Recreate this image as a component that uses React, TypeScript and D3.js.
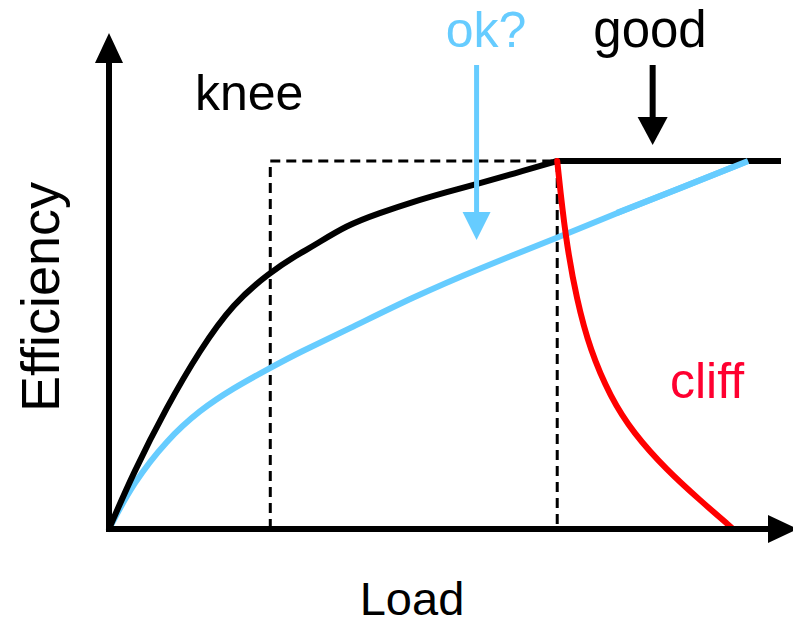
import React from "react";
import * as d3 from "d3";

// Data in abstract units: load 0..100, efficiency 0..100
const kneeLoad = [0, 3.6, 8.6, 13.5, 18.5, 24.0, 28.0, 30.4, 35.4, 40.3, 45.2, 50.3, 55.2, 60.1, 66.7];
const kneeEff = [0, 15.2, 33.2, 48.6, 61.4, 69.8, 74.5, 76.9, 82.6, 85.9, 88.9, 91.6, 94.0, 96.5, 100];

const goodLoad = [66.7, 100];
const goodEff = [100, 100];

const okLoad = [0, 3.6, 8.6, 13.5, 18.5, 24.0, 28.4, 35.4, 45.2, 55.2, 66.7, 75.6, 85.4, 95.1];
const okEff = [0, 12.5, 24.2, 32.3, 38.3, 43.8, 48.1, 54.1, 63.0, 70.9, 79.1, 85.9, 92.9, 100];

const cliffLoad = [66.7, 67.9, 69.6, 71.6, 74.6, 78.0, 83.0, 87.9, 92.7];
const cliffEff = [100, 79.3, 62.2, 48.6, 35.9, 26.1, 16.0, 7.9, 0.3];

const boxLoad = [24.0, 66.7];
const boxEff = 100;

const W = 793;
const H = 625;
const FONT = "'Liberation Sans', Arial, Helvetica, sans-serif";
const BLUE = "#66CCFF";
const RED = "#FF0000";

export default function App() {
  const x = d3.scaleLinear().domain([0, 100]).range([109, 781]);
  const y = d3.scaleLinear().domain([0, 100]).range([529, 161]);

  const mk = (xs: number[], ys: number[], curve: d3.CurveFactory = d3.curveBasis) =>
    d3
      .line<number>()
      .x((_, i) => x(xs[i]))
      .y((_, i) => y(ys[i]))
      .curve(curve)(xs.map((_, i) => i)) || "";

  const x0 = x(0);
  const y0 = y(0);
  const bx1 = x(boxLoad[0]);
  const bx2 = x(boxLoad[1]);
  const by = y(boxEff);

  const okX = x(54.7);
  const goodX = x(80.9);

  return (
    <svg
      width={W}
      height={H}
      style={{ position: "absolute", left: 0, top: 0, display: "block", background: "#fff" }}
    >
      {/* dashed box */}
      <path
        d={`M${bx1},${y0} L${bx1},${by} L${bx2},${by} L${bx2},${y0}`}
        fill="none"
        stroke="#000"
        strokeWidth={3}
        strokeDasharray="10,6"
      />
      {/* curves */}
      <path d={mk(okLoad, okEff)} fill="none" stroke={BLUE} strokeWidth={6} strokeLinecap="round" />
      <path d={mk(kneeLoad, kneeEff)} fill="none" stroke="#000" strokeWidth={6} strokeLinecap="round" />
      <path d={mk(goodLoad, goodEff, d3.curveLinear)} fill="none" stroke="#000" strokeWidth={6} />
      <path d={mk(cliffLoad, cliffEff)} fill="none" stroke={RED} strokeWidth={6} strokeLinecap="round" />
      <path d={mk(okLoad.slice(-3), okEff.slice(-3), d3.curveLinear)} fill="none" stroke={BLUE} strokeWidth={6} />

      {/* axes */}
      <line x1={x0} y1={y0 + 3} x2={x0} y2={62} stroke="#000" strokeWidth={6} />
      <polygon points={`${x0 - 14},63 ${x0 + 14},63 ${x0},33`} fill="#000" />
      <line x1={x0 - 3} y1={y0} x2={770} y2={y0} stroke="#000" strokeWidth={6} />
      <polygon points={`768,${y0 - 14} 768,${y0 + 14} 798,${y0}`} fill="#000" />

      {/* ok? arrow */}
      <line x1={okX} y1={65} x2={okX} y2={213} stroke={BLUE} strokeWidth={5} />
      <polygon points={`${okX - 14},212 ${okX + 14},212 ${okX},240`} fill={BLUE} />
      {/* good arrow */}
      <line x1={goodX} y1={65} x2={goodX} y2={118} stroke="#000" strokeWidth={6} />
      <polygon points={`${goodX - 15},117 ${goodX + 15},117 ${goodX},145`} fill="#000" />

      {/* labels */}
      <g fontFamily={FONT}>
        <text x={195} y={110} fontSize={50} fill="#000">knee</text>
        <text x={486} y={47} fontSize={50} fill={BLUE} textAnchor="middle">ok?</text>
        <text x={650} y={47} fontSize={51} fill="#000" textAnchor="middle">good</text>
        <text x={670} y={398} fontSize={50} fill="#FF0030">cliff</text>
        <text x={412} y={615} fontSize={47} fill="#000" textAnchor="middle">Load</text>
        <text
          transform={`translate(59,297) rotate(-90)`}
          fontSize={54}
          fill="#000"
          textAnchor="middle"
        >
          Efficiency
        </text>
      </g>
    </svg>
  );
}
